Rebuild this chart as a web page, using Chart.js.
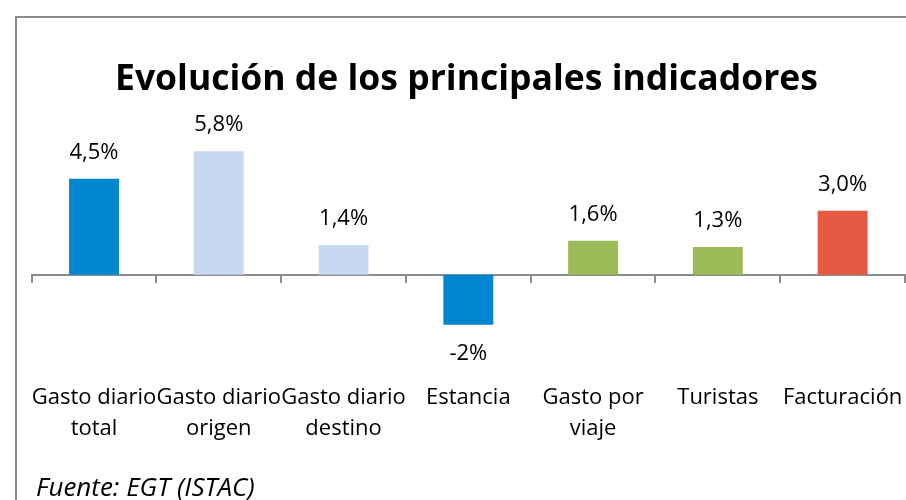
<html><head><meta charset="utf-8">
<script src="https://cdn.jsdelivr.net/npm/chart.js@4"></script>
<style>
 body { margin:0; background:#fff; overflow:hidden; width:906px; height:500px; position:relative; }
 #frame { position:absolute; left:15px; top:16px; width:912px; height:500px; border:2px solid #8c8c8c; box-sizing:border-box; }
 #chartbox { position:absolute; left:17px; top:18px; width:910px; height:482px; }
 #fuente { position:absolute; left:36px; top:468px; font-family:"Open Sans", sans-serif; font-style:italic; font-size:26px; color:#000; }
</style>
</head>
<body>
<div id="frame"></div>
<div id="chartbox"><canvas id="myChart" width="910" height="482"></canvas></div>
<div id="fuente">Fuente: EGT (ISTAC)</div>
<script>
var categories = [
  ['Gasto diario', 'total'],
  ['Gasto diario', 'origen'],
  ['Gasto diario', 'destino'],
  'Estancia',
  ['Gasto por', 'viaje'],
  'Turistas',
  'Facturación'
];
var values = [4.5, 5.8, 1.4, -2.35, 1.6, 1.3, 3.0];
var valueLabels = ['4,5%', '5,8%', '1,4%', '-2%', '1,6%', '1,3%', '3,0%'];
var barColors = ['#0086CF', '#C6D9F1', '#C6D9F1', '#0086CF', '#9BBB59', '#9BBB59', '#E55A43'];

var fontFamily = '"Open Sans", sans-serif';

// value labels above / below each bar
var barLabels = {
  id: 'barLabels',
  afterDatasetsDraw: function(chart) {
    var c = chart.ctx;
    var meta = chart.getDatasetMeta(0);
    c.save();
    c.font = '22px ' + fontFamily;
    c.fillStyle = '#000';
    c.textAlign = 'center';
    c.textBaseline = 'middle';
    meta.data.forEach(function(bar, i) {
      var y = values[i] >= 0 ? bar.y - 26 : bar.y + 29;
      c.fillText(valueLabels[i], bar.x, y);
    });
    c.restore();
  }
};

var ctx = document.getElementById('myChart');
var myChart = new Chart(ctx, {
  type: 'bar',
  data: {
    labels: categories,
    datasets: [{
      data: values,
      backgroundColor: barColors,
      barPercentage: 0.4,
      categoryPercentage: 1
    }]
  },
  plugins: [barLabels],
  options: {
    responsive: false,
    animation: false,
    layout: { padding: { left: 11, right: 22, top: 0, bottom: 42 } },
    plugins: {
      legend: { display: false },
      tooltip: { enabled: false },
      title: {
        display: true,
        text: 'Evolución de los principales indicadores',
        color: '#000',
        font: { family: fontFamily, size: 35.5, weight: 'bold' },
        padding: { top: 41, bottom: 24 }
      }
    },
    scales: {
      y: { display: false, min: -4, max: 7 },
      x: {
        offset: true,
        grid: { display: false },
        border: { display: false },
        ticks: {
          autoSkip: false, maxRotation: 0, minRotation: 0, padding: 14, color: '#000',
          font: { family: fontFamily, size: 22, lineHeight: 1.41 }
        }
      },
      x2: {
        type: 'category',
        labels: categories,
        position: { y: 0 },
        offset: true,
        grid: { offset: true, drawOnChartArea: false, drawTicks: true, tickLength: 7, color: '#8c8c8c', lineWidth: 2 },
        border: { display: true, color: '#8c8c8c', width: 2 },
        ticks: { display: false }
      }
    }
  }
});
</script>
</body></html>
